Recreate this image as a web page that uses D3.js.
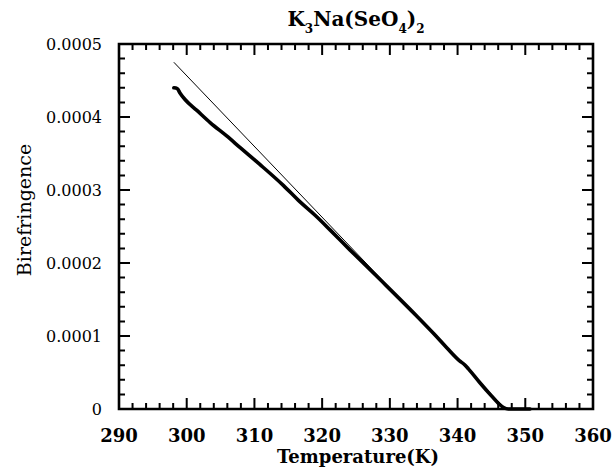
<!DOCTYPE html>
<html>
<head>
<meta charset="utf-8">
<script src="https://cdn.jsdelivr.net/npm/d3@7"></script>
<style>
  body { margin: 0; background: #fff; }
  text { font-family: "DejaVu Serif", serif; fill: #000; }
</style>
</head>
<body>
<div id="chart"></div>
<script>
// measured curve (Temperature in K, birefringence)
var tempData = [298.1, 298.6, 299.0, 299.75, 301.5, 303.5, 305.9, 307.9, 310.8, 314.3,
  316.7, 319.0, 321.2, 324.1, 328.6, 334.0, 336.5, 338.4, 340.3, 341.0, 341.6,
  343.3, 345.0, 346.0, 346.8, 347.5, 350.7];
var birefData = [4.40e-4, 4.39e-4, 4.33e-4, 4.24e-4, 4.09e-4, 3.92e-4, 3.74e-4, 3.58e-4, 3.35e-4, 3.06e-4,
  2.84e-4, 2.65e-4, 2.45e-4, 2.18e-4, 1.77e-4, 1.27e-4, 1.03e-4, 0.84e-4, 0.66e-4, 0.61e-4, 0.55e-4,
  0.36e-4, 0.18e-4, 0.08e-4, 0.02e-4, 0.0, 0.0];

// linear fit line
var fitTemp = [298.1, 347.1];
var fitBiref = [4.75e-4, 0];

var xTicks = [290, 300, 310, 320, 330, 340, 350, 360];
var yTicks = [0, 0.0001, 0.0002, 0.0003, 0.0004, 0.0005];
var yTickLabels = ["0", "0.0001", "0.0002", "0.0003", "0.0004", "0.0005"];

var totalWidth = 613, totalHeight = 471;
var margin = {top: 44, right: 20, bottom: 62, left: 119};
var width = totalWidth - margin.left - margin.right;
var height = totalHeight - margin.top - margin.bottom;

var svg = d3.select("#chart").append("svg")
    .attr("width", totalWidth)
    .attr("height", totalHeight);

var g = svg.append("g")
    .attr("transform", "translate(" + margin.left + "," + margin.top + ")");

var x = d3.scaleLinear().domain([290, 360]).range([0, width]);
var y = d3.scaleLinear().domain([0, 0.0005]).range([height, 0]);

var xMinor = d3.range(0, 36).map(function(i) { return 290 + i * 2; });
var yMinor = d3.range(0, 26).map(function(i) { return i * 0.00002; });

var majorLen = 11, minorLen = 6;

// frame
var fp = d3.path();
fp.rect(0, 0, width, height);
g.append("path")
    .attr("d", fp.toString())
    .attr("fill", "none")
    .attr("stroke", "#000")
    .attr("stroke-width", 2.6);

// all ticks in one path, pointing inward on every side
var tickD = "";
function xTickPath(values, len) {
  values.forEach(function(d) {
    tickD += "M" + x(d) + "," + height + "V" + (height - len);
    tickD += "M" + x(d) + ",0V" + len;
  });
}
function yTickPath(values, len) {
  values.forEach(function(d) {
    tickD += "M0," + y(d) + "H" + len;
    tickD += "M" + width + "," + y(d) + "H" + (width - len);
  });
}
xTickPath(xMinor, minorLen);
xTickPath(xTicks, majorLen);
yTickPath(yMinor, minorLen);
yTickPath(yTicks, majorLen);

g.append("path")
    .attr("d", tickD)
    .attr("fill", "none")
    .attr("stroke", "#000")
    .attr("stroke-width", 2);

// tick labels
g.selectAll(".xlab").data(xTicks).enter().append("text")
    .attr("x", function(d) { return x(d); })
    .attr("y", height + 33)
    .attr("text-anchor", "middle")
    .style("font-size", "18px")
    .style("font-weight", "bold")
    .text(function(d) { return d; });

g.selectAll(".ylab").data(yTicks).enter().append("text")
    .attr("x", -17)
    .attr("y", function(d) { return y(d); })
    .attr("dy", "0.36em")
    .attr("text-anchor", "end")
    .style("font-size", "16px")
    .text(function(d, i) { return yTickLabels[i]; });

// axis titles
svg.append("text")
    .attr("x", margin.left + width / 2 + 2)
    .attr("y", 463)
    .attr("text-anchor", "middle")
    .style("font-size", "18px")
    .style("font-weight", "bold")
    .text("Temperature(K)");

svg.append("text")
    .attr("transform", "translate(31,210) rotate(-90)")
    .attr("text-anchor", "middle")
    .style("font-size", "19px")
    .text("Birefringence");

// title with subscripts
var title = svg.append("text")
    .attr("x", margin.left + width / 2)
    .attr("y", 26)
    .attr("text-anchor", "middle")
    .style("font-size", "20px")
    .style("font-weight", "bold");
title.append("tspan").text("K");
title.append("tspan").attr("dy", 7).style("font-size", "12px").text("3");
title.append("tspan").attr("dy", -7).text("Na(SeO");
title.append("tspan").attr("dy", 7).style("font-size", "12px").text("4");
title.append("tspan").attr("dy", -7).text(")");
title.append("tspan").attr("dy", 7).style("font-size", "12px").text("2");

// lines
var line = d3.line()
    .x(function(d) { return x(d[0]); })
    .y(function(d) { return y(d[1]); });

g.append("path")
    .datum(d3.zip(fitTemp, fitBiref))
    .attr("d", line)
    .attr("fill", "none")
    .attr("stroke", "#000")
    .attr("stroke-width", 1);

g.append("path")
    .datum(d3.zip(tempData, birefData))
    .attr("d", line.curve(d3.curveMonotoneX))
    .attr("fill", "none")
    .attr("stroke", "#000")
    .attr("stroke-width", 3.6)
    .attr("stroke-linejoin", "round")
    .attr("stroke-linecap", "round");
</script>
</body>
</html>
